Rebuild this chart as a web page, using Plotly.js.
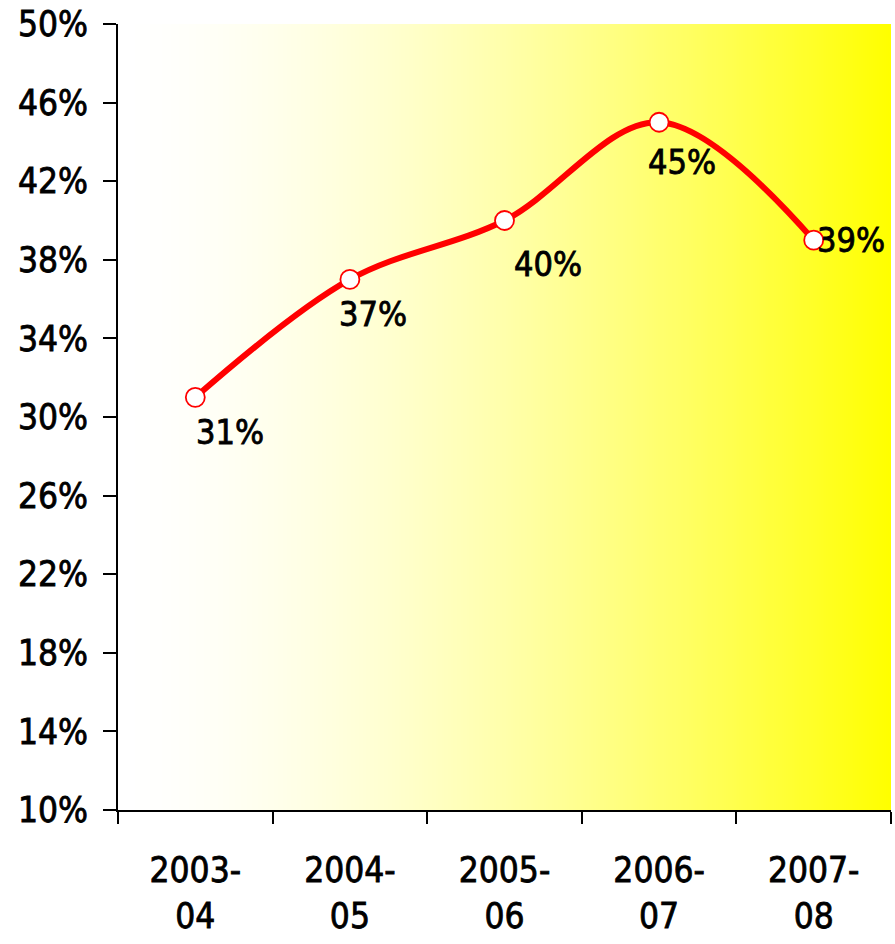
<!DOCTYPE html>
<html>
<head>
<meta charset="utf-8">
<script src="https://cdn.plot.ly/plotly-3.0.1.min.js"></script>
<style>
  html, body { margin: 0; padding: 0; background: #fff; }
  #chart { width: 895px; height: 944px; }
  #chart svg text { paint-order: stroke; stroke: #000; stroke-width: 0.8px; }
</style>
</head>
<body>
<div id="chart"></div>
<script>
// ---- data ----
var categories = ['2003-<br>04', '2004-<br>05', '2005-<br>06', '2006-<br>07', '2007-<br>08'];
var values = [31, 37, 40, 45, 39];
var valueLabels = ['31%', '37%', '40%', '45%', '39%'];

// label offsets (style, px)
var labelShiftX = [35, 23, 43, 23, 37];
var labelShiftY = [-35, -35, -43, -40, 0];

// gradient background image
function gradientURL() {
  var c = document.createElement('canvas');
  c.width = 400; c.height = 4;
  var ctx = c.getContext('2d');
  for (var i = 0; i < c.width; i++) {
    var t = i / (c.width - 1);
    var b = Math.round(255 * (1 - Math.pow(t, 1.6)));
    ctx.fillStyle = 'rgb(255,255,' + b + ')';
    ctx.fillRect(i, 0, 1, c.height);
  }
  return c.toDataURL('image/png');
}

var font = 'DejaVu Sans Condensed, Liberation Sans, sans-serif';

var trace = {
  x: categories,
  y: values,
  type: 'scatter',
  mode: 'lines+markers',
  line: { color: '#ff0000', width: 6, shape: 'spline', smoothing: 1 },
  marker: { size: 19, color: '#ffffff', line: { color: '#ff0000', width: 1.8 } },
  hoverinfo: 'skip'
};

var annotations = values.map(function (v, i) {
  return {
    x: categories[i], y: v, xref: 'x', yref: 'y',
    text: valueLabels[i], showarrow: false,
    xshift: labelShiftX[i], yshift: labelShiftY[i],
    font: { family: font, size: 34, color: '#000' }
  };
});

var layout = {
  width: 895, height: 944,
  margin: { l: 118, r: 4, t: 24, b: 134 },
  paper_bgcolor: '#ffffff',
  plot_bgcolor: 'rgba(0,0,0,0)',
  showlegend: false,
  font: { family: font, size: 35, color: '#000' },
  xaxis: {
    type: 'category',
    range: [-0.5, 4.5],
    showgrid: false, zeroline: false,
    showline: true, linecolor: '#000', linewidth: 2,
    ticks: 'outside', ticklen: 12, tickwidth: 2, tickcolor: '#000',
    tickson: 'boundaries',
    ticklabelstandoff: 28,
    tickfont: { family: font, size: 35, color: '#000' },
    fixedrange: true
  },
  yaxis: {
    range: [10, 50],
    tick0: 10, dtick: 4,
    ticksuffix: '%',
    showgrid: false, zeroline: false,
    showline: true, linecolor: '#000', linewidth: 2,
    ticks: 'outside', ticklen: 13, tickwidth: 2, tickcolor: '#000',
    ticklabelstandoff: 8,
    tickfont: { family: font, size: 35, color: '#000' },
    fixedrange: true
  },
  images: [{
    source: gradientURL(),
    xref: 'paper', yref: 'paper',
    x: 0, y: 1, sizex: 1, sizey: 1,
    xanchor: 'left', yanchor: 'top',
    sizing: 'stretch', layer: 'below'
  }],
  annotations: annotations
};

Plotly.newPlot('chart', [trace], layout, { displayModeBar: false, staticPlot: true });
</script>
</body>
</html>
